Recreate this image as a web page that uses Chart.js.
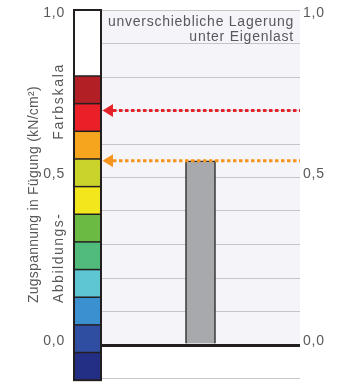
<!DOCTYPE html>
<html>
<head>
<meta charset="utf-8">
<script src="https://cdn.jsdelivr.net/npm/chart.js@4.4.1/dist/chart.umd.min.js"></script>
<style>
  html, body { margin: 0; padding: 0; background: #ffffff; }
  #wrap { width: 343px; height: 384px; }
</style>
</head>
<body>
<div id="wrap"><canvas id="chart" width="343" height="384"></canvas></div>
<script>
// Load case and the tensile stress it produces in the joint (kN/cm²)
const categories = ['unverschiebliche Lagerung\nunter Eigenlast'];
const stressValues = [0.55];

// Reference levels marked by arrows against the colour scale
const markerLevels = [0.70, 0.55];

// Axis tick labels (decimal comma)
const tickValues = [0, 0.5, 1.0];
const tickTexts = ['0,0', '0,5', '1,0'];

// Colour scale: white top band, then colour bands down to the bottom
const colourScaleBounds = [1.0, 0.803, -0.105];
const colourScaleBands = ['#b21f24', '#ea1f27', '#f6a51f', '#cad22c', '#f2e71c', '#6bba44',
                          '#50bb7a', '#5ec6d3', '#3b91d0', '#2f4ea2', '#232f84'];

const FONT = '"Liberation Sans", Arial, sans-serif';
const TEXT = '#58595b';
const markerColours = ['#e5232b', '#f7941d'];

function tickText(v) {
  for (let i = 0; i < tickValues.length; i++) {
    if (Math.abs(v - tickValues[i]) < 1e-6) {
      // the top label sits just inside the frame
      return i === tickValues.length - 1 ? ['', tickTexts[i]] : tickTexts[i];
    }
  }
  return '';
}

function spaced(ctx, text, x, y, spacing) {
  ctx.letterSpacing = spacing + 'px';
  ctx.fillText(text, x, y);
  ctx.letterSpacing = '0px';
}

const decor = {
  id: 'decor',
  beforeDraw(chart) {
    const { ctx, chartArea: a, scales: { y } } = chart;
    const top = y.getPixelForValue(1.0), zero = y.getPixelForValue(0);
    ctx.save();
    ctx.fillStyle = '#f4f4f9';
    ctx.fillRect(a.left, top, a.right - a.left, zero - top);
    ctx.restore();
    // slightly wider tracking for the axis numbers
    ctx.letterSpacing = '0.8px';
  },
  afterDatasetsDraw(chart) {
    const { ctx, chartArea: a, scales: { y } } = chart;
    ctx.save();
    ctx.letterSpacing = '0px';

    // dotted reference lines with arrow heads
    markerLevels.forEach((v, i) => {
      const py = y.getPixelForValue(v);
      const tip = a.left + 1.5, base = a.left + 12;
      ctx.strokeStyle = markerColours[i];
      ctx.lineWidth = 3;
      ctx.setLineDash([3.5, 2.5]);
      ctx.beginPath();
      ctx.moveTo(base, py);
      ctx.lineTo(a.right, py);
      ctx.stroke();
      ctx.setLineDash([]);
      ctx.fillStyle = markerColours[i];
      ctx.beginPath();
      ctx.moveTo(tip, py);
      ctx.lineTo(base, py - 6.5);
      ctx.lineTo(base, py + 6.5);
      ctx.closePath();
      ctx.fill();
    });

    // colour scale column left of the plot
    const x1 = a.left, x0 = x1 - 27;
    const top = y.getPixelForValue(colourScaleBounds[0]);
    const mid = y.getPixelForValue(colourScaleBounds[1]);
    const bot = y.getPixelForValue(colourScaleBounds[2]);
    ctx.fillStyle = '#ffffff';
    ctx.fillRect(x0, top, x1 - x0, mid - top);
    const h = (bot - mid) / colourScaleBands.length;
    colourScaleBands.forEach((c, i) => {
      ctx.fillStyle = c;
      ctx.fillRect(x0, mid + i * h, x1 - x0, h);
    });
    ctx.strokeStyle = '#231f20';
    ctx.lineWidth = 1.5;
    for (let i = 0; i < colourScaleBands.length; i++) {
      const yy = mid + i * h;
      ctx.beginPath();
      ctx.moveTo(x0, yy);
      ctx.lineTo(x1, yy);
      ctx.stroke();
    }
    ctx.lineWidth = 2;
    ctx.strokeRect(x0, top, x1 - x0, bot - top);

    // category caption, right-aligned inside the top band
    ctx.fillStyle = TEXT;
    ctx.font = '14px ' + FONT;
    ctx.textAlign = 'right';
    ctx.textBaseline = 'middle';
    categories[0].split('\n').forEach((line, i) => {
      spaced(ctx, line, a.right - 6, top + 12.5 + i * 15, 0.75);
    });

    // rotated axis captions
    ctx.save();
    ctx.rotate(-Math.PI / 2);
    ctx.textBaseline = 'alphabetic';
    ctx.font = '14px ' + FONT;
    ctx.textAlign = 'left';
    spaced(ctx, 'Zugspannung in Fügung (kN/cm²)', -303, 38, 0.25);
    spaced(ctx, 'Abbildungs-', -303, 63, 1.5);
    ctx.textAlign = 'right';
    spaced(ctx, 'Farbskala', -63, 63, 1.7);
    ctx.restore();

    ctx.restore();
  }
};

const tickFont = { family: FONT, size: 14, lineHeight: 1 };

new Chart(document.getElementById('chart'), {
  type: 'bar',
  data: {
    labels: categories,
    datasets: [{
      data: stressValues,
      backgroundColor: '#a7a9ac',
      borderColor: '#2b2b2b',
      borderWidth: 1.5,
      borderSkipped: 'bottom',
      barThickness: 30
    }]
  },
  options: {
    responsive: false,
    animation: false,
    events: [],
    layout: { padding: { top: 10, bottom: 5.5, left: 0, right: 0 } },
    plugins: { legend: { display: false }, tooltip: { enabled: false } },
    scales: {
      x: { display: false },
      y: {
        position: 'left',
        min: -0.1, max: 1.0,
        afterFit(s) { s.width = 101; s.paddingTop = 0; s.paddingBottom = 0; },
        border: { display: false },
        grid: {
          drawTicks: false,
          color: (c) => Math.abs(c.tick.value) < 1e-6 ? '#231f20' : '#c6c6ca',
          lineWidth: (c) => Math.abs(c.tick.value) < 1e-6 ? 3 : 1
        },
        ticks: {
          stepSize: 0.1, autoSkip: false, padding: 36, labelOffset: -3.5,
          color: TEXT, font: tickFont, callback: tickText
        }
      },
      y2: {
        position: 'right',
        display: true,
        min: -0.1, max: 1.0,
        afterFit(s) { s.width = 43; s.paddingTop = 0; s.paddingBottom = 0; },
        border: { display: false },
        grid: { display: false, drawTicks: false },
        ticks: {
          stepSize: 0.1, autoSkip: false, padding: 3, labelOffset: -3.5,
          color: TEXT, font: tickFont, callback: tickText
        }
      }
    }
  },
  plugins: [decor]
});
</script>
</body>
</html>
